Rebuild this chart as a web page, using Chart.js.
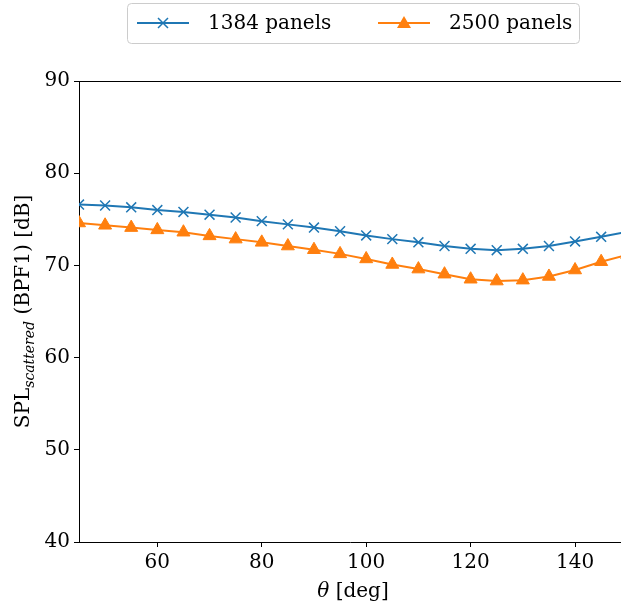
<!DOCTYPE html>
<html>
<head>
<meta charset="utf-8">
<script src="https://cdn.jsdelivr.net/npm/chart.js@4"></script>
<style>
  body { margin: 0; background: #fff; }
  #wrap { width: 621px; height: 609px; }
</style>
</head>
<body>
<div id="wrap"><canvas id="myChart" width="621" height="609"></canvas></div>
<script>
const angles = [45, 50, 55, 60, 65, 70, 75, 80, 85, 90, 95, 100, 105, 110, 115, 120, 125, 130, 135, 140, 145, 150];
const panels1384 = [76.6, 76.5, 76.3, 76.0, 75.8, 75.5, 75.2, 74.8, 74.45, 74.1, 73.7, 73.25, 72.85, 72.5, 72.1, 71.8, 71.65, 71.8, 72.1, 72.6, 73.1, 73.65];
const panels2500 = [74.6, 74.35, 74.1, 73.85, 73.6, 73.2, 72.85, 72.5, 72.1, 71.7, 71.25, 70.7, 70.1, 69.6, 69.05, 68.5, 68.3, 68.4, 68.8, 69.5, 70.4, 71.15];
const xTicks = [60, 80, 100, 120, 140];
const yTicks = [40, 50, 60, 70, 80, 90];

const serif = '"DejaVu Serif", "Liberation Serif", serif';
const blue = '#1f77b4';
const orange = '#ff7f0e';

// top spine, axis titles and the legend are drawn by hand
const extras = {
  id: 'extras',
  afterDraw(chart) {
    const c = chart.ctx;
    const a = chart.chartArea;
    c.save();
    c.strokeStyle = '#000';
    c.lineWidth = 1;
    c.beginPath();
    c.moveTo(a.left, a.top + 0.5);
    c.lineTo(a.right, a.top + 0.5);
    c.stroke();

    // x title
    c.fillStyle = '#000';
    c.textBaseline = 'alphabetic';
    c.font = 'italic 20px ' + serif;
    const t1 = 'θ';
    const t2 = ' [deg]';
    const w1 = c.measureText(t1).width;
    c.font = '20px ' + serif;
    const w2 = c.measureText(t2).width;
    let x = 353 - (w1 + w2) / 2;
    c.font = 'italic 20px ' + serif;
    c.fillText(t1, x, 597);
    c.font = '20px ' + serif;
    c.fillText(t2, x + w1, 597);

    // y title
    c.translate(29, (a.top + a.bottom) / 2);
    c.rotate(-Math.PI / 2);
    const parts = [['SPL', '20px ' + serif, 0], ['scattered', 'italic 14px ' + serif, 5], [' (BPF1) [dB]', '20px ' + serif, 0]];
    let total = 0;
    parts.forEach(p => { c.font = p[1]; total += c.measureText(p[0]).width; });
    x = -total / 2;
    parts.forEach(p => {
      c.font = p[1];
      c.fillText(p[0], x, p[2]);
      x += c.measureText(p[0]).width;
    });
    c.restore();

    // legend
    c.save();
    c.strokeStyle = '#cccccc';
    c.fillStyle = 'rgba(255,255,255,0.8)';
    c.lineWidth = 1;
    c.beginPath();
    c.roundRect(127.5, 3.5, 452, 40, 4);
    c.fill();
    c.stroke();
    const items = [[blue, 'x', '1384 panels', 137], [orange, 'tri', '2500 panels', 378]];
    items.forEach(it => {
      const lx = it[3];
      const ly = 23;
      c.strokeStyle = it[0];
      c.fillStyle = it[0];
      c.lineWidth = 2;
      c.beginPath();
      c.moveTo(lx, ly);
      c.lineTo(lx + 52, ly);
      c.stroke();
      const mx = lx + 26;
      if (it[1] === 'x') {
        c.lineWidth = 1.5;
        c.beginPath();
        c.moveTo(mx - 5, ly - 5); c.lineTo(mx + 5, ly + 5);
        c.moveTo(mx + 5, ly - 5); c.lineTo(mx - 5, ly + 5);
        c.stroke();
      } else {
        c.beginPath();
        c.moveTo(mx, ly - 7); c.lineTo(mx + 7, ly + 5); c.lineTo(mx - 7, ly + 5);
        c.closePath();
        c.fill();
      }
      c.fillStyle = '#000';
      c.font = '20px ' + serif;
      c.textBaseline = 'middle';
      c.fillText(it[2], lx + 71, ly + 1);
    });
    c.restore();
  }
};

const ctx = document.getElementById('myChart').getContext('2d');
const myChart = new Chart(ctx, {
  type: 'line',
  data: {
    datasets: [{
      label: '1384 panels',
      data: angles.map((a, i) => ({ x: a, y: panels1384[i] })),
      borderColor: blue,
      backgroundColor: blue,
      borderWidth: 2,
      pointStyle: 'crossRot',
      pointRadius: 7,
      pointBorderWidth: 1.5,
      tension: 0,
    },
    {
      label: '2500 panels',
      data: angles.map((a, i) => ({ x: a, y: panels2500[i] })),
      borderColor: orange,
      backgroundColor: orange,
      borderWidth: 2,
      pointStyle: 'triangle',
      pointRadius: 7.5,
      pointBorderWidth: 1,
      tension: 0,
    }],
  },
  options: {
    responsive: false,
    animation: false,
    layout: { autoPadding: false, padding: { top: 81, right: 0, left: 0, bottom: 0 } },
    plugins: { legend: { display: false }, tooltip: { enabled: false } },
    scales: {
      x: {
        type: 'linear',
        min: 45,
        max: 148.8,
        afterBuildTicks: (s) => { s.ticks = xTicks.map(v => ({ value: v })); },
        afterFit: (s) => { s.height = 67; s.paddingLeft = 0; s.paddingRight = 0; },
        grid: { display: true, drawOnChartArea: false, drawTicks: true, tickLength: 5, tickColor: '#000' },
        border: { color: '#000', width: 1 },
        ticks: { color: '#000', font: { family: serif, size: 20 }, padding: 4, maxRotation: 0 },
      },
      y: {
        min: 40,
        max: 90,
        afterBuildTicks: (s) => { s.ticks = yTicks.map(v => ({ value: v })); },
        afterFit: (s) => { s.width = 79; s.paddingTop = 0; s.paddingBottom = 0; },
        grid: { display: true, drawOnChartArea: false, drawTicks: true, tickLength: 5, tickColor: '#000' },
        border: { color: '#000', width: 1 },
        ticks: { color: '#000', font: { family: serif, size: 20 }, padding: 4 },
      },
    },
  },
  plugins: [extras],
});
</script>
</body>
</html>
